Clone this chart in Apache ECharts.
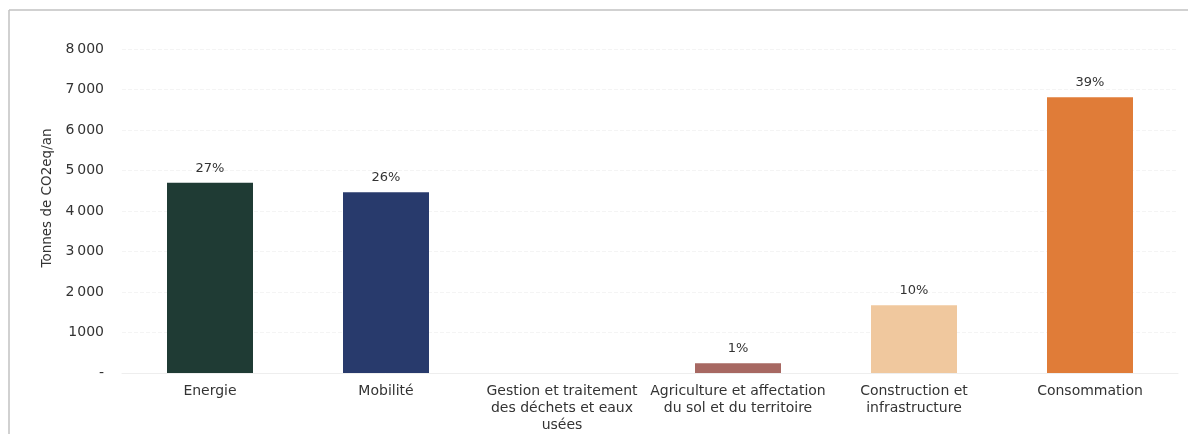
<!DOCTYPE html>
<html>
<head>
<meta charset="utf-8">
<script src="https://cdn.jsdelivr.net/npm/echarts@6/dist/echarts.min.js"></script>
<style>
  html, body { margin: 0; padding: 0; background: #fff; overflow: hidden; }
  #chart { width: 100vw; height: 100vh; }
</style>
</head>
<body>
<div id="chart"></div>
<script>
// Emissions by sector (tonnes CO2eq per year)
const categories = [
  'Energie',
  'Mobilité',
  'Gestion et traitement\ndes déchets et eaux\nusées',
  'Agriculture et affectation\ndu sol et du territoire',
  'Construction et\ninfrastructure',
  'Consommation'
];
const emissions = [4700, 4460, 0, 240, 1675, 6810];
const shareLabels = ['27%', '26%', '', '1%', '10%', '39%'];
const barColors = ['#1f3b34', '#283a6c', '#8a8a8a', '#a76862', '#f0c89e', '#e07c38'];
const yTicks = [0, 1000, 2000, 3000, 4000, 5000, 6000, 7000, 8000];

const FONT = '"DejaVu Sans", sans-serif';
const TEXT = '#333333';

// thin-space thousands separator from 2 000 upward, dash for zero
function tickText(v) {
  if (v === 0) return '-';
  if (v < 2000) return String(v);
  return String(v).replace(/(\d)(\d{3})$/, '$1\u2009$2');
}

const chart = echarts.init(document.getElementById('chart'), null, { renderer: 'canvas' });

chart.setOption({
  backgroundColor: '#ffffff',
  animation: false,
  textStyle: { fontFamily: FONT, color: TEXT },
  graphic: [{
    // panel frame: top and left edges
    type: 'line',
    shape: { x1: 9, y1: 10, x2: 1300, y2: 10 },
    style: { stroke: '#c2c2c2', lineWidth: 1.5 },
    silent: true
  }, {
    type: 'line',
    shape: { x1: 9, y1: 10, x2: 9, y2: 600 },
    style: { stroke: '#c2c2c2', lineWidth: 1.5 },
    silent: true
  }],
  grid: { left: 122, right: 10, top: 49, bottom: 60 },
  xAxis: {
    type: 'category',
    data: categories,
    axisTick: { show: false },
    axisLine: { show: true, lineStyle: { color: '#eeeeee', width: 1 } },
    axisLabel: {
      interval: 0,
      margin: 10,
      fontSize: 14,
      lineHeight: 17,
      color: TEXT,
      fontFamily: FONT
    }
  },
  yAxis: {
    type: 'value',
    min: yTicks[0],
    max: yTicks[yTicks.length - 1],
    interval: 1000,
    name: 'Tonnes de CO2eq/an',
    nameLocation: 'middle',
    nameGap: 68,
    nameRotate: 90,
    nameTextStyle: { fontSize: 13.5, color: TEXT, fontFamily: FONT, padding: [0, 0, 0, 26] },
    axisLine: { show: false },
    axisTick: { show: false },
    splitLine: { show: true, lineStyle: { color: '#f4f4f4', type: 'dashed', width: 1 } },
    axisLabel: {
      margin: 18,
      fontSize: 14,
      color: TEXT,
      fontFamily: FONT,
      formatter: tickText
    }
  },
  series: [{
    type: 'bar',
    data: emissions.map((v, i) => ({ value: v, itemStyle: { color: barColors[i] } })),
    barWidth: 86,
    label: {
      show: true,
      position: 'top',
      distance: 8,
      fontSize: 13,
      color: TEXT,
      fontFamily: FONT,
      formatter: p => shareLabels[p.dataIndex]
    }
  }]
});
</script>
</body>
</html>
